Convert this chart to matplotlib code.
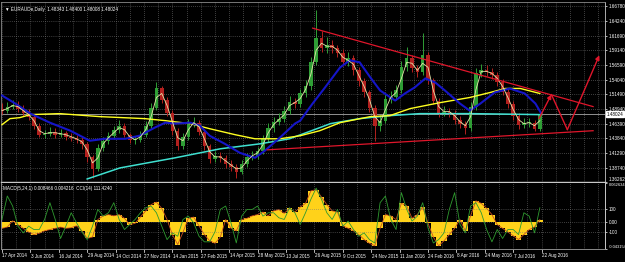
import numpy as np
import matplotlib.pyplot as plt
from matplotlib.transforms import blended_transform_factory

# EURAUDe daily, sampled every 6 bars (one candle = 6 trading days)
close = [1.4866, 1.4936, 1.4971, 1.4902, 1.4832, 1.4762, 1.4605, 1.4447, 1.4465, 1.4500,
         1.4447, 1.4482, 1.4412, 1.4395, 1.4360, 1.4290, 1.4063, 1.3853, 1.4220, 1.4343,
         1.4430, 1.4535, 1.4605, 1.4447, 1.4360, 1.4360, 1.4447, 1.4605, 1.4919, 1.5251,
         1.5059, 1.4832, 1.4517, 1.4255, 1.4412, 1.4640, 1.4657, 1.4500, 1.4255, 1.4028,
         1.4081, 1.4046, 1.3941, 1.3888, 1.3801, 1.3941, 1.4063, 1.4081, 1.4168, 1.4377,
         1.4570, 1.4675, 1.4727, 1.4866, 1.5024, 1.4989, 1.5164, 1.5286, 1.5705, 1.6124,
         1.5950, 1.6002, 1.5950, 1.5862, 1.5705, 1.5775, 1.5565, 1.5373, 1.5181, 1.4919,
         1.4605, 1.4692, 1.5076, 1.5111, 1.5233, 1.5618, 1.5775, 1.5600, 1.5530, 1.5827,
         1.5391, 1.5041, 1.4832, 1.4849, 1.4832, 1.4710, 1.4640, 1.4570, 1.4936, 1.5513,
         1.5565, 1.5530, 1.5478, 1.5356, 1.5198, 1.4989, 1.4779, 1.4622, 1.4657, 1.4657,
         1.4552, 1.4802]
high = [1.4990, 1.5010, 1.5050, 1.5030, 1.4960, 1.4890, 1.4800, 1.4650, 1.4530, 1.4580,
        1.4560, 1.4540, 1.4520, 1.4480, 1.4450, 1.4410, 1.4320, 1.4100, 1.4280, 1.4400,
        1.4500, 1.4600, 1.4700, 1.4650, 1.4480, 1.4430, 1.4520, 1.4680, 1.5000, 1.5360,
        1.5300, 1.5110, 1.4880, 1.4560, 1.4480, 1.4720, 1.4760, 1.4700, 1.4540, 1.4290,
        1.4160, 1.4150, 1.4100, 1.4000, 1.3940, 1.4010, 1.4130, 1.4170, 1.4240, 1.4450,
        1.4650, 1.4760, 1.4820, 1.4940, 1.5120, 1.5090, 1.5250, 1.5400, 1.5800, 1.6610,
        1.6250, 1.6150, 1.6100, 1.6010, 1.5930, 1.5880, 1.5830, 1.5620, 1.5430, 1.5230,
        1.4960, 1.4790, 1.5150, 1.5200, 1.5310, 1.5720, 1.5970, 1.5840, 1.5650, 1.6210,
        1.5880, 1.5440, 1.5090, 1.4940, 1.4920, 1.4880, 1.4770, 1.4690, 1.5010, 1.5600,
        1.5680, 1.5650, 1.5600, 1.5530, 1.5410, 1.5250, 1.5040, 1.4830, 1.4740, 1.4740,
        1.4700, 1.4840]
low = [1.4800, 1.4820, 1.4890, 1.4850, 1.4780, 1.4700, 1.4540, 1.4400, 1.4390, 1.4420,
       1.4390, 1.4400, 1.4350, 1.4340, 1.4300, 1.4200, 1.3980, 1.3700, 1.3820, 1.4170,
       1.4290, 1.4380, 1.4480, 1.4400, 1.4300, 1.4290, 1.4320, 1.4400, 1.4570, 1.4880,
       1.4990, 1.4770, 1.4450, 1.4180, 1.4200, 1.4360, 1.4580, 1.4440, 1.4190, 1.3960,
       1.3970, 1.3980, 1.3870, 1.3820, 1.3700, 1.3760, 1.3890, 1.4000, 1.4020, 1.4110,
       1.4320, 1.4500, 1.4610, 1.4660, 1.4800, 1.4920, 1.4930, 1.5100, 1.5230, 1.5650,
       1.5880, 1.5870, 1.5860, 1.5790, 1.5640, 1.5640, 1.5490, 1.5300, 1.5110, 1.4840,
       1.4340, 1.4520, 1.4650, 1.5000, 1.5050, 1.5180, 1.5560, 1.5530, 1.5450, 1.5480,
       1.5320, 1.4980, 1.4760, 1.4770, 1.4750, 1.4640, 1.4570, 1.4460, 1.4520, 1.4880,
       1.5450, 1.5460, 1.5410, 1.5290, 1.5130, 1.4920, 1.4710, 1.4550, 1.4560, 1.4580,
       1.4520, 1.4520]
first_open = 1.4900

# thin fast moving average on the same grid
fast_ma = [1.4866, 1.4902, 1.4954, 1.4936, 1.4866, 1.4797, 1.4692, 1.4517, 1.4465, 1.4482,
           1.4482, 1.4465, 1.4447, 1.4412, 1.4377, 1.4325, 1.4185, 1.3958, 1.4046, 1.4290,
           1.4395, 1.4482, 1.4570, 1.4535, 1.4412, 1.4360, 1.4412, 1.4535, 1.4762, 1.5094,
           1.5164, 1.4954, 1.4675, 1.4395, 1.4343, 1.4535, 1.4657, 1.4587, 1.4377, 1.4150,
           1.4063, 1.4063, 1.3993, 1.3923, 1.3853, 1.3871, 1.3993, 1.4081, 1.4133, 1.4273,
           1.4482, 1.4622, 1.4710, 1.4797, 1.4954, 1.5006, 1.5076, 1.5233, 1.5496, 1.5915,
           1.6037, 1.5985, 1.5985, 1.5915, 1.5793, 1.5740, 1.5670, 1.5478, 1.5286, 1.5059,
           1.4762, 1.4657, 1.4884, 1.5094, 1.5181, 1.5426, 1.5705, 1.5688, 1.5565, 1.5688,
           1.5618, 1.5216, 1.4936, 1.4849, 1.4849, 1.4779, 1.4675, 1.4605, 1.4762, 1.5233,
           1.5548, 1.5548, 1.5513, 1.5426, 1.5286, 1.5094, 1.4884, 1.4710, 1.4640, 1.4657,
           1.4605, 1.4692]

# slower moving averages (bar index, price)
yellow_x = [0, 9, 20, 32, 65, 110, 161, 184, 212, 234, 263, 285, 313, 336, 358, 381, 415, 437, 460, 494, 527, 550, 567, 584, 606]
yellow_y = [1.4622, 1.4727, 1.4744, 1.4797, 1.4814, 1.4762, 1.4727, 1.4692, 1.4640, 1.4552, 1.4447, 1.4377, 1.4377,
            1.4430, 1.4517, 1.4657, 1.4762, 1.4779, 1.4902, 1.5006, 1.5094, 1.5181, 1.5251, 1.5251, 1.5164]
cyan_x = [96, 133, 195, 246, 291, 324, 358, 370, 403, 437, 471, 527, 606]
cyan_y = [1.3679, 1.3871, 1.4046, 1.4203, 1.4290, 1.4377, 1.4570, 1.4640, 1.4727, 1.4779, 1.4814, 1.4814, 1.4797]
blue_x = [0, 15, 32, 54, 77, 99, 116, 139, 155, 172, 184, 195, 212, 223, 234, 251, 268, 285, 296, 313, 330, 336,
          350, 364, 381, 392, 403, 415, 426, 443, 454, 465, 477, 488, 499, 516, 527, 539, 555, 572, 589, 601, 607]
blue_y = [1.5129, 1.4989, 1.4814, 1.4657, 1.4517, 1.4343, 1.4377, 1.4377, 1.4430, 1.4570, 1.4657, 1.4640, 1.4657,
          1.4605, 1.4430, 1.4290, 1.4133, 1.4046, 1.4168, 1.4395, 1.4640, 1.4692, 1.4989, 1.5269, 1.5618, 1.5740,
          1.5705, 1.5443, 1.5216, 1.5041, 1.5164, 1.5269, 1.5426, 1.5356, 1.5216, 1.4989, 1.4866, 1.4989, 1.5181,
          1.5251, 1.5164, 1.4989, 1.4832]

# MACD(5,24,1) histogram and CCI(14) on the candle grid
macd = [-0.010, -0.008, 0.002, -0.004, -0.010, -0.016, -0.020, -0.018, -0.014, -0.012,
        -0.010, -0.008, -0.010, -0.009, -0.006, -0.014, -0.026, -0.024, 0.004, 0.010,
        0.012, 0.010, 0.012, 0.006, -0.004, -0.002, 0.008, 0.018, 0.028, 0.032,
        0.022, 0.004, -0.020, -0.036, -0.016, 0.006, 0.008, -0.006, -0.020, -0.030,
        -0.034, -0.024, 0.004, -0.010, -0.014, 0.004, 0.006, 0.010, 0.012, 0.016,
        0.010, 0.018, 0.020, 0.014, 0.022, 0.016, 0.024, 0.030, 0.050, 0.052,
        0.040, 0.028, 0.018, 0.016, -0.006, -0.010, -0.014, -0.020, -0.028, -0.034,
        -0.038, -0.010, 0.012, 0.010, 0.004, 0.030, 0.026, 0.006, 0.012, 0.024,
        -0.002, -0.024, -0.038, -0.030, -0.020, -0.010, 0.004, -0.014, 0.010, 0.034,
        0.030, 0.022, 0.012, -0.004, -0.010, -0.016, -0.022, -0.028, -0.020, -0.012,
        -0.008, 0.004]
cci = [10, 220, 130, -50, -110, -50, -80, -80, 10, 160,
       10, -160, -50, 70, -20, -100, -170, -50, 100, 40,
       70, 160, 10, -80, -35, 10, 70, 115, 130, 70,
       -50, -170, -110, -140, 10, 40, -20, -140, -190, -190,
       -100, 100, 130, -20, -200, 40, 100, 100, 130, 40,
       70, 70, 25, 10, 115, 70, -35, 70, 190, 290,
       190, 70, 10, 100, -50, -5, -80, -140, -110, -170,
       -200, 160, 220, 10, -80, 250, 100, -5, 40, 160,
       -65, -200, -170, -110, 100, 250, -35, -110, 130, 160,
       70, -80, -190, -80, -160, -80, -80, -125, 70, 40,
       -110, 115]

# hand drawn objects
upper_x, upper_y = [350, 666], [1.6299, 1.4936]
lower_x, lower_y = [299, 666], [1.4185, 1.4517]
zig_x = [605, 619, 637, 673]
zig_y = [1.4727, 1.5146, 1.4535, 1.5827]

price_levels = [1.38740, 1.41290, 1.43840, 1.46390, 1.48940, 1.51490,
                1.54040, 1.56590, 1.59140, 1.61690, 1.64240, 1.66780]
price_min, price_max = 1.36262, 1.6753
last_price = 1.48024
date_labels = ['17 Apr 2014', '3 Jun 2014', '16 Jul 2014', '29 Aug 2014', '14 Oct 2014',
               '27 Nov 2014', '14 Jan 2015', '27 Feb 2015', '14 Apr 2015', '28 May 2015',
               '13 Jul 2015', '26 Aug 2015', '9 Oct 2015', '24 Nov 2015', '11 Jan 2016',
               '24 Feb 2016', '8 Apr 2016', '24 May 2016', '7 Jul 2016', '22 Aug 2016']

plt.rcParams['font.family'] = ['Liberation Sans', 'DejaVu Sans']
FS = 3.3
GRID = dict(color='#7a7a7a', lw=0.5, ls=(0, (1, 2)))

W, H = 625, 262
def box(x0, y0, x1, y1):
    return [x0 / W, 1 - y1 / H, (x1 - x0) / W, (y1 - y0) / H]

fig = plt.figure(figsize=(W / 100, H / 100), dpi=100, facecolor='black')
ax = fig.add_axes(box(1, 2, 605, 182), facecolor='black')
axm = fig.add_axes(box(1, 183, 605, 249), facecolor='black', sharex=ax)
axc = axm.twinx()

close = np.array(close)
bars = np.arange(len(close)) * 6
opens = np.r_[first_open, close[:-1]]
up = close >= opens
col = np.where(up, '#2f9e35', '#b3201e')

x_lo, x_hi = -1.1, 679.4
ax.set_xlim(x_lo, x_hi)
ax.set_ylim(price_min, price_max)

# grid
for lv in price_levels:
    ax.axhline(lv, zorder=0, **GRID)
for b in range(0, 680, 16):
    ax.axvline(b, zorder=0, **GRID)
    axm.axvline(b, zorder=0, **GRID)

# candles
ax.vlines(bars, low, high, colors=col, lw=0.7, zorder=2)
body = np.where(np.abs(close - opens) < 0.0008, 0.0008, close - opens)
ax.bar(bars, body, bottom=opens, width=4, color=col, linewidth=0, zorder=2)

# moving averages
ax.plot(cyan_x, cyan_y, color='#3fe0d0', lw=1.1, zorder=3)
ax.plot(yellow_x, yellow_y, color='#ffff20', lw=1.0, zorder=3)
ax.plot(blue_x, blue_y, color='#1515c8', lw=1.5, zorder=3)
ax.plot(bars, fast_ma, color='#e4e4a8', lw=0.6, zorder=3)

# current price line
ax.axhline(last_price, color='#a8a8a8', lw=0.6, zorder=1)

# trend lines and projected path
red = '#e0162b'
ax.plot(upper_x, upper_y, color=red, lw=0.9, zorder=4)
ax.plot(lower_x, lower_y, color=red, lw=0.9, zorder=4)
for i in range(3):
    head = '-|>' if i != 1 else '-'
    ax.annotate('', xy=(zig_x[i + 1], zig_y[i + 1]), xytext=(zig_x[i], zig_y[i]),
                arrowprops=dict(arrowstyle=head, color=red, lw=1.0,
                                mutation_scale=6, shrinkA=0, shrinkB=0), zorder=5)

# right price scale
ax.yaxis.tick_right()
ax.set_yticks([price_min] + price_levels)
ax.set_yticklabels([f'{v:.5f}' for v in [price_min] + price_levels])
ax.tick_params(axis='y', colors='white', labelsize=FS, length=1.5, width=0.5, pad=1)
ax.tick_params(axis='x', bottom=False, labelbottom=False)
ax.get_yticklabels()[0].set_va('bottom')
ax.text(1.002, last_price, f'{last_price:.5f}', transform=ax.get_yaxis_transform(),
        fontsize=FS, color='black', va='center', ha='left',
        bbox=dict(boxstyle='square,pad=0.12', fc='white', ec='white'))
ax.text(0.006, 0.975, '\u25bc EURAUDe,Daily  1.48343 1.48400 1.48008 1.48024',
        transform=ax.transAxes, fontsize=FS, color='white', va='top', ha='left')

# MACD panel
macd_top, macd_bot = 0.062634, -0.043154
axm.set_ylim(macd_bot, macd_top)
axm.bar(bars, macd, width=6, color='#ffd21a', linewidth=0, zorder=2)
axm.plot(bars, macd, color='#c8501e', lw=0.6, zorder=3)
axm.axhline(0, zorder=1, **GRID)
axm.yaxis.tick_right()
axm.set_yticks([macd_top, 0, macd_bot])
axm.set_yticklabels([f'{macd_top:.6f}', '0.00', f'{macd_bot:.6f}'])
axm.tick_params(axis='y', colors='white', labelsize=FS, length=1.5, width=0.5, pad=1,
                left=False, labelleft=False, right=True, labelright=True)
axm.tick_params(axis='x', bottom=False, labelbottom=False)
mlabels = axm.get_yticklabels()
mlabels[0].set_va('top')
mlabels[-1].set_va('bottom')
mlabels[0].set_fontsize(2.9)
mlabels[-1].set_fontsize(2.9)

# CCI(14) overlay with its own scale
axc.set_ylim(-254, 336)
axc.plot(bars, cci, color='#2f9a2f', lw=0.6, zorder=4)
for lv in (100, -100):
    axc.axhline(lv, zorder=1, **GRID)
axc.set_yticks([100, -100])
axc.set_yticklabels(['100', '-100'])
axc.tick_params(axis='y', colors='white', labelsize=FS, length=1.5, width=0.5, pad=1)

axm.text(0.004, 0.96, 'MACD(5,24,1) 0.008466 0.004216  CCI(14) 111.4240',
         transform=axm.transAxes, fontsize=FS, color='white', va='top', ha='left')

# date scale
tr = blended_transform_factory(axm.transData, fig.transFigure)
for i, lab in enumerate(date_labels):
    b = i * 32
    axm.text(b + 0.5, 1 - 256 / H, lab, transform=tr, fontsize=FS, color='white',
             va='center', ha='left', clip_on=False)
    axm.plot([b, b], [1 - 249 / H, 1 - 252 / H], transform=tr, color='white', lw=0.5, clip_on=False)

for a in (ax, axm, axc):
    for s in a.spines.values():
        s.set_color('#8a8a8a')
        s.set_linewidth(0.6)
    a.spines['right'].set_color('#c8c8c8')
axm.spines['top'].set_visible(False)
axc.spines['top'].set_visible(False)
ax.spines['bottom'].set_color('#c8c8c8')
ax.spines['bottom'].set_linewidth(1.0)

fig.savefig('out.png', dpi=100, facecolor='black')
